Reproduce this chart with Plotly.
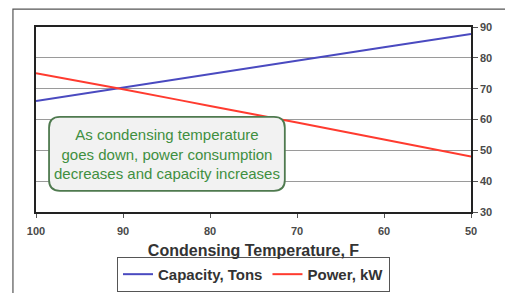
import plotly.graph_objects as go

temps = [100, 90, 80, 70, 60, 50]
capacity_tons = [66.0, 70.4, 74.8, 79.1, 83.4, 87.7]
power_kw = [75.0, 69.8, 64.4, 59.0, 53.5, 48.0]
y_ticks = [30, 40, 50, 60, 70, 80, 90]
x_ticks = [100, 90, 80, 70, 60, 50]
note_lines = ["As condensing temperature", "goes down, power consumption", "decreases and capacity increases"]

FONT = "Liberation Sans, Arial"

fig = go.Figure()
fig.add_trace(go.Scatter(x=temps, y=capacity_tons, mode="lines", name="<b>Capacity, Tons</b>",
                         line=dict(color="#4a4ac0", width=2)))
fig.add_trace(go.Scatter(x=temps, y=power_kw, mode="lines", name="<b>Power, kW</b>",
                         line=dict(color="#ff3b2f", width=2, shape="spline")))

tick_font = dict(family=FONT, size=11, color="#4a4a4a", weight="bold")
fig.update_xaxes(range=[100, 50], tickvals=x_ticks, ticks="outside", ticklen=4, tickcolor="#555",
                 showline=True, linecolor="#222", linewidth=1.5, mirror=True, showgrid=False,
                 tickfont=tick_font, zeroline=False, ticklabelstandoff=4, automargin=False,
                 title=dict(text="<b>Condensing Temperature, F</b>", standoff=9,
                            font=dict(family=FONT, size=16, color="#333333")))
fig.update_yaxes(range=[30, 90], tickvals=y_ticks, side="right", ticks="outside", ticklen=5, tickcolor="#555",
                 showline=True, linecolor="#222", linewidth=1.5, mirror=True, showgrid=True,
                 gridcolor="#9a9a9a", gridwidth=1, tickfont=tick_font, zeroline=False, automargin=False)

# rounded annotation box (paper coords)
x0, x1, y0, y1, r = 0.03, 0.572, 0.114, 0.514, 0.025
ry = r * 435 / 185
path = (f"M {x0+r},{y0} L {x1-r},{y0} Q {x1},{y0} {x1},{y0+ry} L {x1},{y1-ry} Q {x1},{y1} {x1-r},{y1} "
        f"L {x0+r},{y1} Q {x0},{y1} {x0},{y1-ry} L {x0},{y0+ry} Q {x0},{y0} {x0+r},{y0} Z")
fig.add_shape(type="path", path=path, xref="paper", yref="paper",
              line=dict(color="#4f7a4f", width=1.8), fillcolor="#f2f2f2", layer="above")
fig.add_annotation(x=(x0 + x1) / 2, y=(y0 + y1) / 2, xref="paper", yref="paper",
                   xanchor="center", yanchor="middle",
                   text="<br>".join(note_lines), showarrow=False, align="center",
                   font=dict(family=FONT, size=15, color="#3f8f3f"))

# outer frame
fig.add_shape(type="rect", xref="paper", yref="paper", x0=-0.053, y0=-0.6, x1=1.2, y1=1.097,
              line=dict(color="#555555", width=1.2), layer="below")

fig.update_layout(
    width=505, height=293,
    margin=dict(l=36, r=34, t=27, b=81, autoexpand=False),
    paper_bgcolor="white", plot_bgcolor="white",
    showlegend=True,
    legend=dict(orientation="h", x=0.5, xanchor="center", y=-0.432, yanchor="bottom",
                bordercolor="#555555", borderwidth=1, bgcolor="white",
                font=dict(family=FONT, size=15, color="#333333"),
                itemwidth=30, tracegroupgap=0),
)

fig.write_html("out.html", config={"displayModeBar": False},
               post_script="document.body.style.margin='0';")
